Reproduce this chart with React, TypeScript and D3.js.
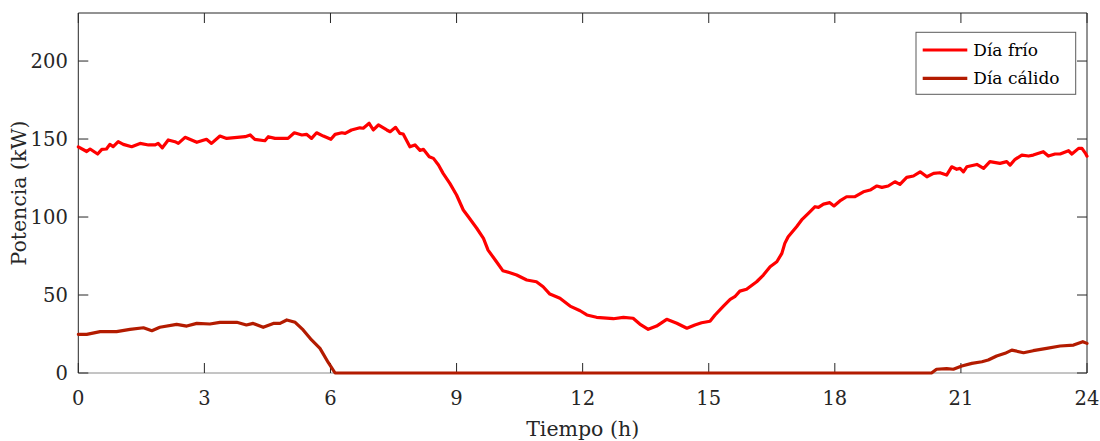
import React from "react";
import * as d3 from "d3";

const coldTimes = [0, 0.2, 0.28, 0.46, 0.56, 0.67, 0.75, 0.83, 0.95, 1.07, 1.27, 1.47, 1.67, 1.83, 1.9, 2.0, 2.14, 2.3, 2.38, 2.54, 2.82, 3.05, 3.17, 3.37, 3.53, 3.97, 4.09, 4.2, 4.44, 4.52, 4.68, 4.99, 5.14, 5.32, 5.43, 5.55, 5.67, 5.83, 6.01, 6.11, 6.27, 6.35, 6.5, 6.7, 6.78, 6.92, 7.02, 7.14, 7.34, 7.42, 7.55, 7.65, 7.73, 7.89, 8.01, 8.13, 8.21, 8.35, 8.45, 8.57, 8.68, 8.84, 9.0, 9.16, 9.28, 9.48, 9.64, 9.75, 9.95, 10.1, 10.27, 10.43, 10.67, 10.9, 11.06, 11.22, 11.46, 11.7, 11.94, 12.1, 12.33, 12.73, 12.97, 13.2, 13.36, 13.56, 13.76, 14.0, 14.24, 14.48, 14.67, 14.83, 15.03, 15.15, 15.35, 15.51, 15.62, 15.74, 15.9, 16.14, 16.3, 16.46, 16.62, 16.74, 16.81, 16.89, 17.09, 17.21, 17.37, 17.53, 17.61, 17.73, 17.88, 17.98, 18.12, 18.28, 18.48, 18.68, 18.84, 19.0, 19.12, 19.27, 19.43, 19.55, 19.71, 19.87, 20.03, 20.19, 20.35, 20.5, 20.66, 20.78, 20.9, 20.98, 21.06, 21.14, 21.38, 21.54, 21.69, 21.93, 22.09, 22.17, 22.29, 22.45, 22.61, 22.72, 22.96, 23.08, 23.24, 23.36, 23.56, 23.64, 23.8, 23.88, 23.96, 24];
const coldValues = [145, 142, 143.6, 140.4, 143.4, 143.6, 146.6, 145.1, 148.3, 146.6, 145.1, 147.2, 146.2, 146.2, 147.2, 144.4, 149.4, 148.3, 147.2, 151.1, 147.9, 149.8, 147.2, 151.9, 150.4, 151.5, 152.6, 149.8, 148.9, 151.5, 150.4, 150.4, 154, 152.6, 153, 150.4, 154, 151.9, 149.8, 153, 154, 153.6, 155.8, 157.2, 156.9, 160.1, 155.8, 159, 155.8, 154.7, 157.5, 153.6, 153.2, 145, 146.2, 142.7, 143.4, 138.7, 137.6, 133.3, 128, 121.6, 114.1, 104.5, 100.2, 92.8, 86.3, 78.8, 71.3, 65.6, 64.3, 62.8, 59.6, 58.5, 55.3, 50.6, 47.9, 42.9, 39.9, 37.2, 35.7, 34.8, 35.7, 35.1, 31.4, 28, 30.1, 34.4, 31.9, 28.7, 30.8, 32.2, 33.2, 37.2, 42.9, 47.2, 48.9, 52.5, 53.7, 58.5, 62.8, 68.1, 71.3, 76.7, 83.1, 87.4, 93.8, 98.1, 102.4, 106.6, 106.2, 108.3, 109.2, 107.1, 110.3, 113, 113, 116.2, 117.3, 119.9, 119, 119.9, 122.6, 120.9, 125.4, 126.3, 129, 125.8, 128, 128.4, 126.9, 132.2, 130.6, 131.2, 129, 132.2, 133.7, 131.2, 135.5, 134.4, 135.5, 133.3, 137, 139.7, 139.1, 139.7, 141.9, 139.1, 140.4, 140.4, 142.5, 140.4, 144, 144, 141, 139];

const warmTimes = [0, 0.2, 0.52, 0.91, 1.23, 1.55, 1.75, 1.94, 2.34, 2.58, 2.82, 3.13, 3.37, 3.77, 4.0, 4.16, 4.4, 4.64, 4.8, 4.96, 5.16, 5.35, 5.55, 5.75, 5.95, 6.11, 20.3, 20.42, 20.66, 20.82, 21.02, 21.26, 21.5, 21.65, 21.85, 22.05, 22.21, 22.49, 22.72, 23.04, 23.36, 23.68, 23.9, 24];
const warmValues = [24.8, 24.8, 26.5, 26.5, 28, 29, 27.1, 29.3, 31.2, 30.1, 31.8, 31.4, 32.5, 32.5, 30.8, 31.8, 29.3, 31.8, 31.8, 34, 32.5, 27.6, 21.2, 15.8, 6.6, 0, 0, 2.4, 2.8, 2.4, 4.5, 6.2, 7.2, 8.3, 10.9, 12.6, 14.7, 13, 14.3, 15.8, 17.3, 17.9, 20.1, 19];

const xTicks = [0, 3, 6, 9, 12, 15, 18, 21, 24];
const yTicks = [0, 50, 100, 150, 200];
const seriesNames = ["Día frío", "Día cálido"];
const seriesColors = ["#ff0000", "#b31b00"];

const W = 1100;
const H = 441;
const L = 78.3;
const R = 1087;
const T = 13;
const B = 373;
const FONT = "'DejaVu Serif', serif";
const INK = "#262626";

export default function App() {
  const x = d3.scaleLinear().domain([0, 24]).range([L, R]);
  const y = d3.scaleLinear().domain([0, 230.8]).range([B, T]);
  const line = d3
    .line<[number, number]>()
    .x((d) => x(d[0]))
    .y((d) => y(d[1]));
  const cold: [number, number][] = coldTimes.map((t, i) => [t, coldValues[i]]);
  const warm: [number, number][] = warmTimes.map((t, i) => [t, warmValues[i]]);
  const tickLen = 10;

  return (
    <svg
      width={W}
      height={H}
      style={{ position: "absolute", left: 0, top: 0, background: "#fff" }}
    >
      <rect x={0} y={0} width={W} height={H} fill="#fff" />
      <defs>
        <clipPath id="plotclip">
          <rect x={L - 2} y={T} width={R - L + 4} height={B - T + 3} />
        </clipPath>
      </defs>
      <line x1={L} x2={R} y1={B} y2={B} stroke="#8a8a8a" strokeWidth={1} />
      <line x1={L} x2={R} y1={T} y2={T} stroke={INK} strokeWidth={1} />
      <line x1={L} x2={L} y1={T} y2={B} stroke={INK} strokeWidth={1} />
      <line x1={R} x2={R} y1={T} y2={B} stroke={INK} strokeWidth={1} />
      {xTicks.map((t) => (
        <g key={"xt" + t}>
          <line x1={x(t)} x2={x(t)} y1={B} y2={B - tickLen} stroke={INK} strokeWidth={1} />
          <line x1={x(t)} x2={x(t)} y1={T} y2={T + tickLen} stroke={INK} strokeWidth={1} />
          <text
            x={x(t)}
            y={405}
            textAnchor="middle"
            fontFamily={FONT}
            fontSize={19.5}
            fill={INK}
          >
            {t}
          </text>
        </g>
      ))}
      {yTicks.map((v) => (
        <g key={"yt" + v}>
          <line x1={L} x2={L + tickLen} y1={y(v)} y2={y(v)} stroke={INK} strokeWidth={1} />
          <line x1={R} x2={R - tickLen} y1={y(v)} y2={y(v)} stroke={INK} strokeWidth={1} />
          <text
            x={L - 10.5}
            y={y(v) + 7}
            textAnchor="end"
            fontFamily={FONT}
            fontSize={19.5}
            fill={INK}
          >
            {v}
          </text>
        </g>
      ))}
      <text
        x={(L + R) / 2}
        y={436}
        textAnchor="middle"
        fontFamily={FONT}
        fontSize={20.5}
        fill={INK}
      >
        Tiempo (h)
      </text>
      <text
        transform={`translate(26,${(T + B) / 2}) rotate(-90)`}
        textAnchor="middle"
        fontFamily={FONT}
        fontSize={20.5}
        fill={INK}
      >
        Potencia (kW)
      </text>
      <g clipPath="url(#plotclip)">
        <path
          d={line(cold) || ""}
          fill="none"
          stroke={seriesColors[0]}
          strokeWidth={3.2}
          strokeLinejoin="round"
          strokeLinecap="round"
        />
        <path
          d={line(warm) || ""}
          fill="none"
          stroke={seriesColors[1]}
          strokeWidth={3.2}
          strokeLinejoin="round"
          strokeLinecap="round"
        />
      </g>
      <rect x={916} y={32.3} width={159.7} height={62} fill="#fff" stroke="#5a5a5a" strokeWidth={1} />
      {seriesNames.map((name, i) => {
        const ly = 50 + i * 28.3;
        return (
          <g key={name}>
            <line x1={922.7} x2={967.3} y1={ly} y2={ly} stroke={seriesColors[i]} strokeWidth={3.2} />
            <text x={973.3} y={ly + 5.5} fontFamily={FONT} fontSize={17} fill="#000">
              {name}
            </text>
          </g>
        );
      })}
    </svg>
  );
}
